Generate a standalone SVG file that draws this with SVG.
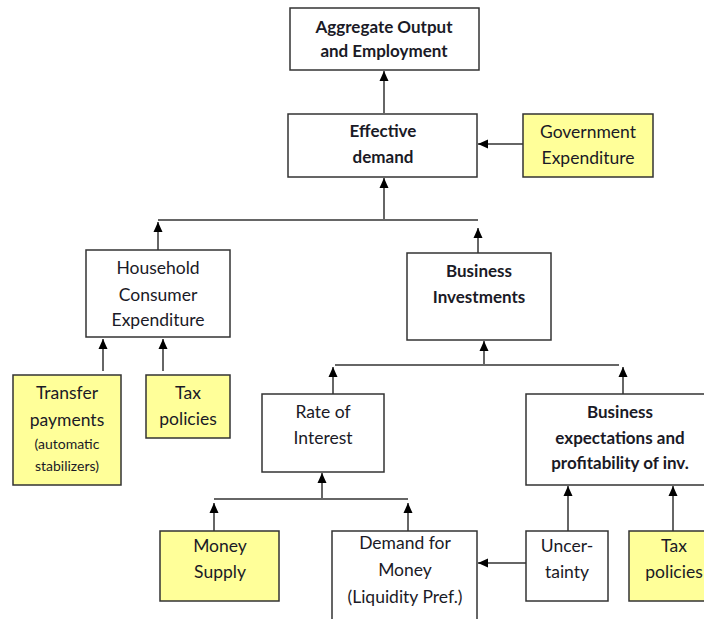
<svg xmlns="http://www.w3.org/2000/svg" width="704" height="619" viewBox="0 0 704 619">
<defs>
<marker id="ah" markerUnits="userSpaceOnUse" markerWidth="10" markerHeight="10" viewBox="0 0 10 10" refX="10" refY="5" orient="auto">
<path d="M0,0.5 L10,5 L0,9.5 Z" fill="#000"/>
</marker>
<style>
.box{fill:#fff;stroke:#333;stroke-width:1.5}
.yel{fill:#ffff99;stroke:#333;stroke-width:1.5}
.ln{fill:none;stroke:#666;stroke-width:2}
.ar{fill:none;stroke:#666;stroke-width:2;marker-end:url(#ah)}
text{font-family:Lato,"Liberation Sans",sans-serif;font-size:17.5px;fill:#1a1a26;text-anchor:middle}
.b{font-weight:bold;font-size:17px}
.s{font-size:14px}
</style>
</defs>
<rect width="704" height="619" fill="#fff"/>
<g id="connectors">
<line class="ar" x1="384" y1="113" x2="384" y2="71"/>
<line class="ar" x1="523" y1="144" x2="478" y2="144"/>
<line class="ln" x1="158" y1="220" x2="478" y2="220"/>
<line class="ar" x1="384" y1="220" x2="384" y2="178"/>
<line class="ar" x1="158" y1="250" x2="158" y2="222"/>
<line class="ar" x1="478" y1="253" x2="478" y2="228"/>
<line class="ar" x1="103" y1="371" x2="103" y2="339"/>
<line class="ar" x1="163" y1="371" x2="163" y2="339"/>
<line class="ln" x1="335" y1="365" x2="619" y2="365"/>
<line class="ar" x1="484" y1="365" x2="484" y2="341"/>
<line class="ar" x1="333" y1="394" x2="333" y2="367"/>
<line class="ar" x1="623" y1="394" x2="623" y2="367"/>
<line class="ln" x1="214" y1="499" x2="408" y2="499"/>
<line class="ar" x1="322" y1="499" x2="322" y2="473"/>
<line class="ar" x1="214" y1="531" x2="214" y2="503"/>
<line class="ar" x1="408" y1="531" x2="408" y2="503"/>
<line class="ar" x1="526" y1="563" x2="478" y2="563"/>
<line class="ar" x1="568" y1="531" x2="568" y2="486"/>
<line class="ar" x1="673" y1="531" x2="673" y2="486"/>
</g>
<g id="aggregate">
<rect class="box" x="290" y="8" width="189" height="62"/>
<text class="b" x="384" y="33">Aggregate Output</text>
<text class="b" x="384" y="57">and Employment</text>
</g>
<g id="effective">
<rect class="box" x="288" y="114" width="189" height="63"/>
<text class="b" x="383" y="137">Effective</text>
<text class="b" x="383" y="163">demand</text>
</g>
<g id="government">
<rect class="yel" x="523" y="114" width="130" height="63"/>
<text x="588" y="138">Government</text>
<text x="588" y="164">Expenditure</text>
</g>
<g id="household">
<rect class="box" x="86" y="250" width="144" height="87"/>
<text x="158" y="274">Household</text>
<text x="158" y="301">Consumer</text>
<text x="158" y="326">Expenditure</text>
</g>
<g id="business-inv">
<rect class="box" x="407" y="253" width="144" height="87"/>
<text class="b" x="479" y="277">Business</text>
<text class="b" x="479" y="303">Investments</text>
</g>
<g id="transfer">
<rect class="yel" x="13" y="375" width="108" height="110"/>
<text x="67" y="399">Transfer</text>
<text x="67" y="426">payments</text>
<text class="s" x="67" y="449">(automatic</text>
<text class="s" x="67" y="471">stabilizers)</text>
</g>
<g id="tax1">
<rect class="yel" x="146" y="375" width="84" height="63"/>
<text x="188" y="399">Tax</text>
<text x="188" y="425">policies</text>
</g>
<g id="rate">
<rect class="box" x="262" y="394" width="122" height="78"/>
<text x="323" y="418">Rate of</text>
<text x="323" y="444">Interest</text>
</g>
<g id="expectations">
<rect class="box" x="526" y="394" width="180" height="91"/>
<text class="b" x="620" y="418">Business</text>
<text class="b" x="620" y="444">expectations and</text>
<text class="b" x="620" y="469">profitability of inv.</text>
</g>
<g id="money-supply">
<rect class="yel" x="160" y="531" width="119" height="70"/>
<text x="220" y="552">Money</text>
<text x="220" y="578">Supply</text>
</g>
<g id="demand-money">
<rect class="box" x="332" y="531" width="145" height="95"/>
<text x="405" y="549">Demand for</text>
<text x="405" y="576">Money</text>
<text x="405" y="603">(Liquidity Pref.)</text>
</g>
<g id="uncertainty">
<rect class="box" x="526" y="531" width="82" height="70"/>
<text x="567" y="552">Uncer-</text>
<text x="567" y="578">tainty</text>
</g>
<g id="tax2">
<rect class="yel" x="629" y="531" width="80" height="70"/>
<text x="674" y="552">Tax</text>
<text x="674" y="578">policies</text>
</g>
</svg>
